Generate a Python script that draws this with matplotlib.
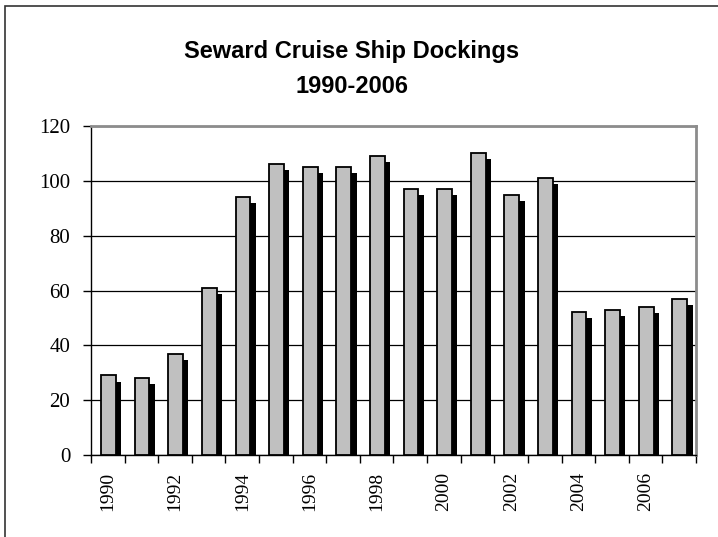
import matplotlib
matplotlib.use("Agg")
import matplotlib.pyplot as plt
import numpy as np
from matplotlib.patches import Rectangle

# Données
years = list(range(1990, 2008))
dockings = [29, 28, 37, 61, 94, 106, 105, 105, 109, 97, 97, 110, 95, 101, 52, 53, 54, 57]
year_labels = [str(y) for y in years[::2]]

W, H = 718, 537
fig = plt.figure(figsize=(W / 100, H / 100), dpi=100)
fig.patch.set_facecolor("white")

# cadre extérieur (haut + gauche visibles)
fig.patches.append(Rectangle((5 / W, -0.01), 1.05, (H - 6) / H + 0.01,
                             transform=fig.transFigure, fill=False,
                             edgecolor="#333333", linewidth=1.2))

ax = fig.add_axes([91 / W, (H - 455) / H, 605 / W, 329 / H])

x = np.arange(len(years))
# ombre noire décalée derrière chaque barre
ax.bar(x + 0.18, np.array(dockings) - 2.2, width=0.44, color="black",
       edgecolor="none", zorder=2)
ax.bar(x + 0.02, dockings, width=0.44, color="#c0c0c0",
       edgecolor="black", linewidth=1.3, zorder=3)

ax.set_xlim(-0.5, len(years) - 0.5)
ax.set_ylim(0, 120)
ax.set_yticks(range(0, 121, 20))
ax.yaxis.grid(True, color="black", linewidth=0.9, zorder=1)
ax.set_axisbelow(True)

ax.set_xticks(x[::2])
ax.set_xticklabels(year_labels, rotation=90, fontsize=14,
                   family="Liberation Serif")
ax.set_xticks(np.arange(-0.5, len(years), 1), minor=True)
ax.tick_params(axis="x", which="major", length=0, pad=12)
ax.tick_params(axis="x", which="minor", length=6, width=1, direction="out")
ax.tick_params(axis="y", length=6, width=1, direction="out", pad=9)
for lbl in ax.get_yticklabels():
    lbl.set_family("Liberation Serif")
    lbl.set_fontsize(15)

for side in ("top", "right"):
    ax.spines[side].set_color("#8c8c8c")
    ax.spines[side].set_linewidth(2)
for side in ("left", "bottom"):
    ax.spines[side].set_color("black")
    ax.spines[side].set_linewidth(1)

for txt, yb in [("Seward Cruise Ship Dockings", 58), ("1990-2006", 93)]:
    fig.text(352 / W, 1 - yb / H, txt, ha="center", va="baseline",
             fontsize=17, fontweight="bold", family="Liberation Sans")

fig.savefig("out.png", dpi=100, facecolor="white")
